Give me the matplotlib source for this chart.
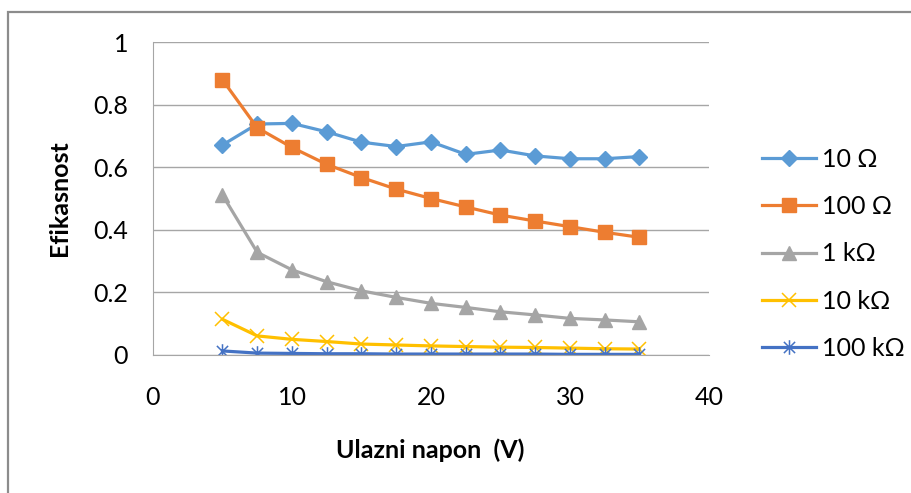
import numpy as np
import matplotlib
matplotlib.use("Agg")
import matplotlib.pyplot as plt
from matplotlib.path import Path
from matplotlib.patches import Rectangle

plt.rcParams['font.family'] = ['Lato', 'DejaVu Sans']

# input voltage (V)
napon = [5, 7.5, 10, 12.5, 15, 17.5, 20, 22.5, 25, 27.5, 30, 32.5, 35]

# efficiency per load
ef_10 = [0.671, 0.738, 0.740, 0.713, 0.680, 0.666, 0.681, 0.641, 0.655, 0.636, 0.627, 0.627, 0.634]
ef_100 = [0.879, 0.726, 0.663, 0.609, 0.567, 0.530, 0.500, 0.473, 0.447, 0.428, 0.410, 0.392, 0.376]
ef_1k = [0.511, 0.328, 0.272, 0.234, 0.205, 0.184, 0.165, 0.152, 0.138, 0.128, 0.117, 0.112, 0.106]
ef_10k = [0.114, 0.061, 0.050, 0.043, 0.035, 0.032, 0.029, 0.027, 0.025, 0.024, 0.022, 0.020, 0.019]
ef_100k = [0.013, 0.006, 0.005, 0.004, 0.004, 0.003, 0.003, 0.003, 0.003, 0.003, 0.002, 0.002, 0.002]

labels = ['10 Ω', '100 Ω', '1 kΩ', '10 kΩ', '100 kΩ']
colors = ['#5B9BD5', '#ED7D31', '#A5A5A5', '#FFC000', '#4472C4']

# excel style star: x plus vertical bar
star = Path([(-1, -1), (1, 1), (-1, 1), (1, -1), (0, -1.3), (0, 1.3)],
            [Path.MOVETO, Path.LINETO, Path.MOVETO, Path.LINETO, Path.MOVETO, Path.LINETO])

fig = plt.figure(figsize=(9.12, 4.93), dpi=100)
ax = fig.add_axes([153 / 912, 1 - 355 / 493, 556 / 912, 313 / 493])

ax.plot(napon, ef_10, color=colors[0], lw=2.3, marker='D', ms=8.5, label=labels[0])
ax.plot(napon, ef_100, color=colors[1], lw=2.3, marker='s', ms=10, label=labels[1])
ax.plot(napon, ef_1k, color=colors[2], lw=2.3, marker='^', ms=10, label=labels[2])
ax.plot(napon, ef_10k, color=colors[3], lw=2.3, marker='x', ms=9.5, mew=1.1, label=labels[3])
ax.plot(napon, ef_100k, color=colors[4], lw=2.3, marker=star, ms=10.5, mew=1.1, label=labels[4])

ax.set_xlim(0, 40)
ax.set_ylim(0, 1)
ax.set_xticks([0, 10, 20, 30, 40])
ax.set_yticks([0, 0.2, 0.4, 0.6, 0.8, 1])
ax.set_yticklabels(['0', '0.2', '0.4', '0.6', '0.8', '1'])
ax.grid(axis='y', color='#A6A6A6', lw=1)
ax.set_axisbelow(True)
for s in ['top', 'right']:
    ax.spines[s].set_visible(False)
for s in ['left', 'bottom']:
    ax.spines[s].set_color('#A6A6A6')
ax.tick_params(axis='both', length=0, labelsize=18)
ax.tick_params(axis='y', pad=18)
ax.tick_params(axis='x', pad=22)

ax.set_xlabel('Ulazni napon  (V)', fontsize=18, fontweight='bold')
ax.set_ylabel('Efikasnost', fontsize=18, fontweight='bold')
ax.xaxis.set_label_coords(0.498, -0.303)
ax.yaxis.set_label_coords(-0.169, 0.5)
ax.xaxis.label.set_va('center')
ax.yaxis.label.set_va('center')

ax.legend(loc='center left', bbox_to_anchor=(1.0953, 0.3227), frameon=False, fontsize=18,
          handlelength=2.16, labelspacing=0.97, handletextpad=0.24, borderpad=0, borderaxespad=0)

fig.patches.append(Rectangle((8 / 912, -0.1), 1.2, 1 - 12 / 493 + 0.1, transform=fig.transFigure,
                             fill=False, edgecolor='#8C8C8C', lw=1.6))

fig.savefig('out.png', dpi=100)
